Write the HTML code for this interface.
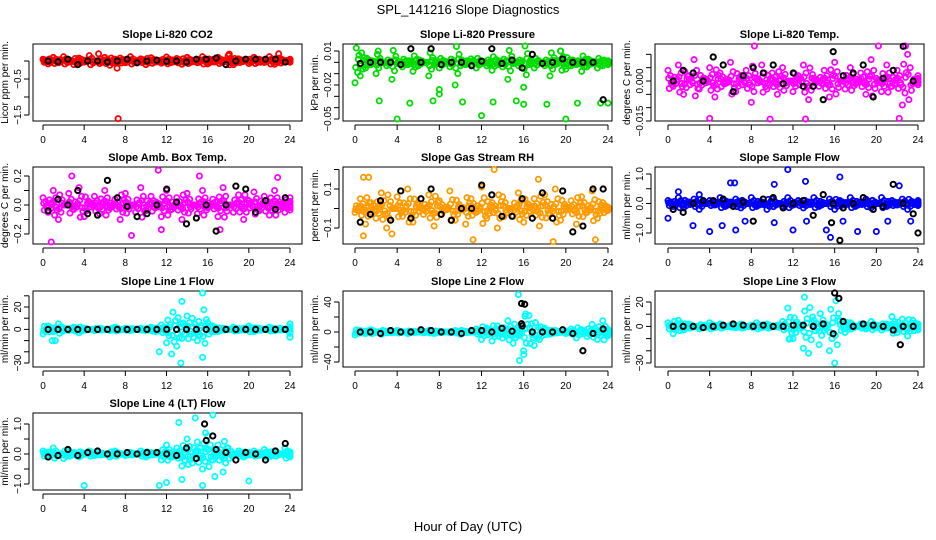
<!DOCTYPE html>
<html><head><meta charset="utf-8">
<style>
html,body{margin:0;padding:0;background:#fff;}
svg{display:block;font-family:"Liberation Sans",sans-serif;}
</style></head>
<body>
<svg id="c" width="936" height="540" viewBox="0 0 936 540">
<text x="468" y="14" text-anchor="middle" font-size="13">SPL_141216  Slope Diagnostics</text>
<text x="468" y="531" text-anchor="middle" font-size="13">Hour of Day (UTC)</text>
</svg>
<script>
const hourTicks=[0,4,8,12,16,20,24];
// colored series (every 0.5 h)
const co2=[0.05,-0.08,0.1,-0.05,0.12,0.02,-0.1,0.08,-0.03,0.15,0.0,-0.07,0.1,-0.12,0.05,0.08,-0.05,0.12,-0.02,0.06,-0.1,0.09,0.03,-0.06,0.11,-0.04,0.07,-0.09,0.1,0.02,-0.05,0.12,-0.08,0.04,0.1,-0.03,0.15,-0.1,0.06,0.0,-0.07,0.1,0.05,-0.04,0.12,-0.09,0.08,-0.02,0.05];
const co2Out=[[7.3,-1.6],[7.2,-0.2],[5.4,0.2],[22.9,0.2],[18.1,0.19]];
const co2Blk=[0,-0.02,0.05,-0.1,0,0,-0.03,0.0,0.05,-0.05,0.0,0.02,-0.01,0.0,-0.03,0.05,0.05,0.08,-0.1,0.0,0.05,0.05,0.05,0.05,-0.03];
const press=[-0.018,-0.012,-0.005,-0.002,-0.01,0.0,-0.003,-0.015,-0.001,-0.004,-0.002,-0.008,-0.003,0.0,-0.012,-0.002,-0.005,-0.001,-0.004,-0.02,-0.003,-0.002,0.003,-0.005,-0.001,-0.003,-0.007,-0.002,-0.004,-0.015,-0.001,-0.003,-0.022,-0.002,-0.005,0.0,-0.003,-0.012,-0.002,0.01,-0.006,-0.003,-0.002,-0.008,-0.004,-0.001,-0.005,-0.003,-0.002];
const pressOut=[[4,-0.05],[12,-0.047],[20,-0.05],[2.3,-0.034],[5.2,-0.036],[7.4,-0.034],[10.2,-0.035],[13.1,-0.035],[15.3,-0.034],[16,-0.037],[18.2,-0.037],[21.1,-0.036],[23.3,-0.036],[24,-0.036],[8,-0.024],[8,-0.028],[2.2,0.01],[19.5,0.01]];
const pressBlk=[-0.001,0.0,0.0,0.0,-0.002,0.012,0.0,0.012,-0.002,0.0,0.0,-0.003,0.001,0.012,-0.001,0.002,-0.005,0.007,-0.001,0.0,0.003,0.0,0.0,0.0,-0.033];
const temp=[0.004,-0.002,0.006,-0.005,0.002,0.008,-0.003,0.001,0.005,-0.006,0.003,-0.001,0.007,-0.004,0.002,0.004,-0.008,0.001,0.006,-0.003,0.003,-0.005,0.005,0.0,-0.004,0.002,0.006,-0.007,0.001,-0.002,0.004,-0.006,0.007,0.0,-0.003,0.005,-0.001,0.003,-0.005,0.008,0.001,-0.004,0.006,-0.002,0.004,-0.009,0.01,-0.001,0.002];
const tempOut=[[13.2,-0.022],[9.8,-0.019],[22.2,-0.014],[4,-0.014],[8.3,0.017],[20.2,0.015],[22.8,0.019]];
const tempBlk=[0.0,0.004,0.003,0.0,0.009,0.006,-0.004,0.002,0.005,0.003,0.006,-0.001,0.003,-0.002,-0.002,-0.007,0.011,0.002,0.003,0.006,-0.006,0.001,0.004,0.013,0.0];
const amb=[0.05,-0.05,0.1,-0.1,0.0,0.08,-0.03,0.12,-0.08,0.02,0.06,-0.06,0.1,-0.02,0.04,-0.1,0.08,0.0,-0.05,0.12,-0.04,0.06,0.02,-0.08,0.1,-0.03,0.05,-0.1,0.08,0.0,-0.06,0.1,-0.02,0.04,-0.08,0.12,0.0,-0.05,0.07,-0.1,0.03,0.09,-0.04,0.06,-0.07,0.1,0.02,-0.05,0.05];
const ambOut=[[0.8,-0.26],[11.2,0.24],[2.8,0.2],[22.8,0.19],[15.2,0.2],[8.6,-0.21],[17.2,-0.17],[11.5,-0.17]];
const ambBlk=[-0.04,0.04,0.0,0.1,-0.06,-0.07,0.17,0.05,-0.01,-0.08,-0.06,0.0,0.11,0.02,-0.13,-0.09,0.0,-0.18,0.0,0.13,0.11,-0.05,0.03,-0.03,0.05];
const rh=[-0.02,0.05,-0.08,0.03,-0.05,0.08,-0.1,0.0,0.06,-0.04,0.1,-0.07,0.02,-0.03,0.07,-0.09,0.04,-0.01,0.09,-0.06,0.01,-0.08,0.05,-0.02,0.11,-0.05,0.03,-0.1,0.06,0.0,-0.04,0.08,-0.07,0.02,0.05,-0.09,0.07,-0.03,0.1,-0.06,0.01,0.04,-0.08,0.06,-0.02,0.09,-0.05,0.03,-0.01];
const rhOut=[[13.2,0.2],[0.8,0.16],[1.3,0.16],[18.8,-0.17],[11.2,-0.16],[22.8,-0.16],[0.8,-0.14],[3.5,-0.13],[17.4,0.15]];
const rhBlk=[-0.07,-0.03,0.04,-0.06,0.09,-0.05,0.05,0.1,-0.03,-0.06,0.0,0.0,0.12,0.07,-0.04,-0.04,0.05,-0.05,0.08,-0.05,0.09,-0.12,-0.09,0.1,0.1];
const sf=[0.1,-0.1,0.2,-0.15,0.05,0.15,-0.2,0.0,0.1,-0.05,0.2,-0.1,0.05,0.15,-0.15,0.0,0.2,-0.1,0.05,-0.2,0.15,0.0,-0.1,0.2,-0.05,0.1,-0.15,0.05,0.2,-0.1,0.0,0.15,-0.2,0.1,-0.05,0.2,-0.1,0.05,0.15,-0.15,0.0,0.2,-0.1,0.1,-0.05,0.15,-0.2,0.05,0.1];
const sfOut=[[11.5,1.15],[16.5,0.9],[6,0.7],[6.4,0.7],[10.2,0.65],[13.2,0.75],[22.2,0.6],[0,-0.5],[2.4,-0.75],[4,-0.95],[5.2,-0.75],[6.5,-0.9],[7.4,-0.6],[10.2,-0.65],[12,-0.9],[13.3,-0.6],[15.6,-1.15],[16.8,-0.6],[18.2,-0.95],[20,-0.95],[21.1,-0.6],[23.3,-0.6],[15.2,-0.9],[1,0.4],[3,0.3]];
const sfBlk=[-0.2,-0.3,0.0,0.1,0.1,0.15,-0.1,0.05,-0.6,0.15,0.2,-0.15,0.0,0.1,-0.4,0.3,0.0,-0.15,0.0,0.2,-0.2,-0.1,0.65,0.0,-0.35];
const sfBlkOut=[[16.5,-1.25],[24,-1.0],[15.7,-0.65]];
const l1=[-4,3,-2,5,1,-1,2,-3,1,0,-1,1,0,-1,2,0,1,-1,0,1,-1,2,-2,4,-12,-22,-15,-8,12,10,-10,-25,6,3,-2,1,0,2,-1,1,3,-2,1,0,2,-1,1,0,-7];
const l1Out=[[15.5,33],[13.5,25],[13.4,-30],[11.3,-20],[0.9,-10],[1.2,-10]];
const l1Blk=[0,0,0,0,0,0,0,0,0,0,0,0,0,0,0,0,0,0,0,0,0,0,0,0,0];
const l2=[-4,2,-2,3,0,-3,1,-1,2,0,-2,1,0,-1,2,-2,1,0,-1,2,-3,1,0,4,-10,5,-12,8,-8,15,-15,-5,-30,22,-18,-10,5,-3,2,0,-2,4,-8,3,-6,10,-10,15,-5];
const l2Out=[[15.5,50],[15.6,-38],[16.2,24],[16,-25]];
const l2Blk=[0,0,-2,2,0,0,3,2,0,0,-2,2,2,0,5,1,8,0,0,0,3,-2,-25,-2,4];
const l2BlkOut=[[15.8,38],[16.1,37],[15.8,11]];
const l3=[3,-6,5,-3,2,0,-2,1,3,-1,2,0,1,-1,2,0,1,3,-1,2,0,1,4,15,-10,2,-18,-22,5,-15,-3,-20,-30,5,-5,3,0,2,-2,4,1,-3,2,8,-5,6,-8,5,-3];
const l3Out=[[13.1,24],[11.7,-10]];
const l3Blk=[0,0,0,-1,0,1,2,1,0,1,0,0,1,1,0,2,-6,4,0,2,1,0,-3,0,0];
const l3BlkOut=[[16,28],[16.4,23],[22.3,-15]];
const l4=[0.1,-0.1,0.2,0.0,-0.15,0.1,0.05,-0.1,0.0,0.1,-0.05,0.05,0.0,-0.1,0.1,0.0,-0.05,0.05,0.0,0.1,-0.1,0.05,0.0,-0.2,0.3,-0.1,0.2,-0.4,0.5,-0.3,0.4,-0.5,0.6,-0.2,0.3,-0.6,0.2,0.0,0.1,-0.1,0.05,0.1,-0.05,0.15,-0.1,0.1,0.0,0.2,-0.1];
const l4Out=[[16.5,1.3],[14.8,1.2],[13.2,1.05],[4,-1.05],[11.3,-1.05],[15.5,-1.05],[12,-0.95],[20,-0.9],[16.7,-0.75],[13.5,-0.85],[15.8,0.7]];
const l4Blk=[-0.1,-0.05,0.15,-0.05,0.05,0.1,0.0,0.0,0.05,0.0,0.05,0.05,0.0,-0.05,0.2,-0.15,0.45,0.15,0.05,-0.2,0.05,0.0,-0.2,0.1,0.35];
const l4BlkOut=[[15.7,1.0],[16.5,0.6]];

const NS="http://www.w3.org/2000/svg";
const svg=document.getElementById('c');
const cols=[{bx0:33,bx1:302,x0:43,x24:290},{bx0:343,bx1:612,x0:355,x24:608},{bx0:655,bx1:924,x0:668,x24:918}];
const rows=[{top:44,bot:121},{top:167,bot:244},{top:291,bot:367},{top:413,bot:490}];
// sub-sample replicas around each half-hour value: [hour offset, value multiplier]
const reps=[[0,1],[0.125,-0.7],[0.25,0.5],[0.375,-0.35],[0.0625,0.25],[0.3125,-0.15]];
const panels=[
 {r:0,c:0,title:"Slope Li-820 CO2",yt:"Licor ppm per min.",col:"#ff0000",v:co2,out:co2Out,blk:co2Blk,bo:[],ya:[0,61,-1.5,115],ticks:[0,-0.5,-1,-1.5],labs:[-0.5,-1.5],fmt:v=>v.toFixed(1).replace('-','\u2212')},
 {r:0,c:1,title:"Slope Li-820 Pressure",yt:"kPa per min.",col:"#00dd00",v:press,out:pressOut,blk:pressBlk,bo:[],ya:[0.01,51,-0.05,119],ticks:[0.01,0,-0.01,-0.02,-0.03,-0.04,-0.05],labs:[0.01,-0.02,-0.05],fmt:v=>v.toFixed(2).replace('-','\u2212')},
 {r:0,c:2,title:"Slope Li-820 Temp.",yt:"degrees C per min.",col:"#ff00ff",v:temp,out:tempOut,blk:tempBlk,bo:[],ya:[0,81,-0.015,121],ticks:[0.01,0.005,0,-0.005,-0.01,-0.015],labs:[0,-0.015],fmt:v=>v.toFixed(3).replace('-','\u2212')},
 {r:1,c:0,title:"Slope Amb. Box Temp.",yt:"degrees C per min.",col:"#ff00ff",v:amb,out:ambOut,blk:ambBlk,bo:[],ya:[0.2,176,-0.2,234],ticks:[0.2,0.1,0,-0.1,-0.2],labs:[0.2,0,-0.2],fmt:v=>v.toFixed(1).replace('-','\u2212')},
 {r:1,c:1,title:"Slope Gas Stream RH",yt:"percent per min.",col:"#ff9a00",v:rh,out:rhOut,blk:rhBlk,bo:[],ya:[0.1,189,-0.1,228],ticks:[0.2,0.1,0,-0.1],labs:[0.1,-0.1],fmt:v=>v.toFixed(1).replace('-','\u2212')},
 {r:1,c:2,title:"Slope Sample Flow",yt:"ml/min per min.",col:"#0000ff",v:sf,out:sfOut,blk:sfBlk,bo:sfBlkOut,ya:[1,174,-1,233],ticks:[1,0.5,0,-0.5,-1],labs:[1,0,-1],fmt:v=>v.toFixed(1).replace('-','\u2212')},
 {r:2,c:0,title:"Slope Line 1 Flow",yt:"ml/min per min.",col:"#00ffff",v:l1,out:l1Out,blk:l1Blk,bo:[],ya:[20,307,-30,363],ticks:[30,20,10,0,-10,-20,-30],labs:[20,0,-30],fmt:v=>String(v).replace('-','\u2212')},
 {r:2,c:1,title:"Slope Line 2 Flow",yt:"ml/min per min.",col:"#00ffff",v:l2,out:l2Out,blk:l2Blk,bo:l2BlkOut,ya:[40,302,-40,362],ticks:[40,20,0,-20,-40],labs:[40,0,-40],fmt:v=>String(v).replace('-','\u2212')},
 {r:2,c:2,title:"Slope Line 3 Flow",yt:"ml/min per min.",col:"#00ffff",v:l3,out:l3Out,blk:l3Blk,bo:l3BlkOut,ya:[20,302,-30,363],ticks:[20,10,0,-10,-20,-30],labs:[20,0,-30],fmt:v=>String(v).replace('-','\u2212')},
 {r:3,c:0,title:"Slope Line 4 (LT) Flow",yt:"ml/min per min.",col:"#00ffff",v:l4,out:l4Out,blk:l4Blk,bo:l4BlkOut,ya:[1,424,-1,484],ticks:[1,0.5,0,-0.5,-1],labs:[1,0,-1],fmt:v=>v.toFixed(1).replace('-','\u2212')}
];
function mk(tag,attrs,parent){const e=document.createElementNS(NS,tag);for(const k in attrs)e.setAttribute(k,attrs[k]);(parent||svg).appendChild(e);return e;}
panels.forEach((p,pi)=>{
 const C=cols[p.c],R=rows[p.r];
 const g=mk('g',{});
 
 
 const xs=h=>C.x0+(C.x24-C.x0)*h/24;
 const ys=v=>p.ya[1]+(v-p.ya[0])*(p.ya[3]-p.ya[1])/(p.ya[2]-p.ya[0]);
 const cy=v=>Math.max(R.top+2,Math.min(R.bot-2,ys(v)));
 const t=mk('text',{x:(C.bx0+C.bx1)/2,y:R.top-6,'text-anchor':'middle','font-size':'11','font-weight':'bold'},g);
 t.textContent=p.title;
 
 
 const yx=C.bx0-25, ym=(R.top+R.bot)/2;
 const yt=mk('text',{x:yx,y:ym,'text-anchor':'middle','font-size':'10',transform:`rotate(-90 ${yx} ${ym})`},g);
 yt.textContent=p.yt;
 
 
 const ay=R.bot+4;
 mk('line',{x1:xs(0),x2:xs(24),y1:ay,y2:ay,stroke:'#000','stroke-width':1},g);
 hourTicks.forEach(h=>{
  mk('line',{x1:xs(h),x2:xs(h),y1:ay,y2:ay+5,stroke:'#000'},g);
  const l=mk('text',{x:xs(h),y:ay+18,'text-anchor':'middle','font-size':'10'},g);
  l.textContent=h;
  
  
 });
 const lx=C.bx0-4;
 const ty=p.ticks.map(ys);
 mk('line',{x1:lx,x2:lx,y1:Math.min(...ty),y2:Math.max(...ty),stroke:'#000'},g);
 p.ticks.forEach(v=>mk('line',{x1:lx-5,x2:lx,y1:ys(v),y2:ys(v),stroke:'#000'},g));
 p.labs.forEach(v=>{
  const X=lx-8,Y=ys(v);
  const l=mk('text',{x:X,y:Y,'text-anchor':'middle','font-size':'10',transform:`rotate(-90 ${X} ${Y})`},g);
  l.textContent=p.fmt(v);
  
  
 });
 mk('rect',{x:C.bx0,y:R.top,width:C.bx1-C.bx0,height:R.bot-R.top,fill:'none',stroke:'#000'},g);
 p.v.forEach((v,i)=>{
  reps.forEach(([dh,m])=>{
   const c=mk('circle',{cx:xs(Math.min(24,i*0.5+dh)),cy:cy(v*m),r:2.6,fill:'none',stroke:p.col,'stroke-width':1.8},g);
   
   
  });
 });
 p.out.forEach(([h,v])=>{
  const c=mk('circle',{cx:xs(h),cy:cy(v),r:2.6,fill:'none',stroke:p.col,'stroke-width':1.8},g);
  
  
 });
 p.blk.forEach((v,i)=>{
  const c=mk('circle',{cx:xs(0.5+i*0.96),cy:cy(v),r:2.6,fill:'none',stroke:'#000','stroke-width':2},g);
  
  
 });
 p.bo.forEach(([h,v])=>{
  const c=mk('circle',{cx:xs(h),cy:cy(v),r:2.6,fill:'none',stroke:'#000','stroke-width':2},g);
  
  
 });
});
</script>
</body></html>
